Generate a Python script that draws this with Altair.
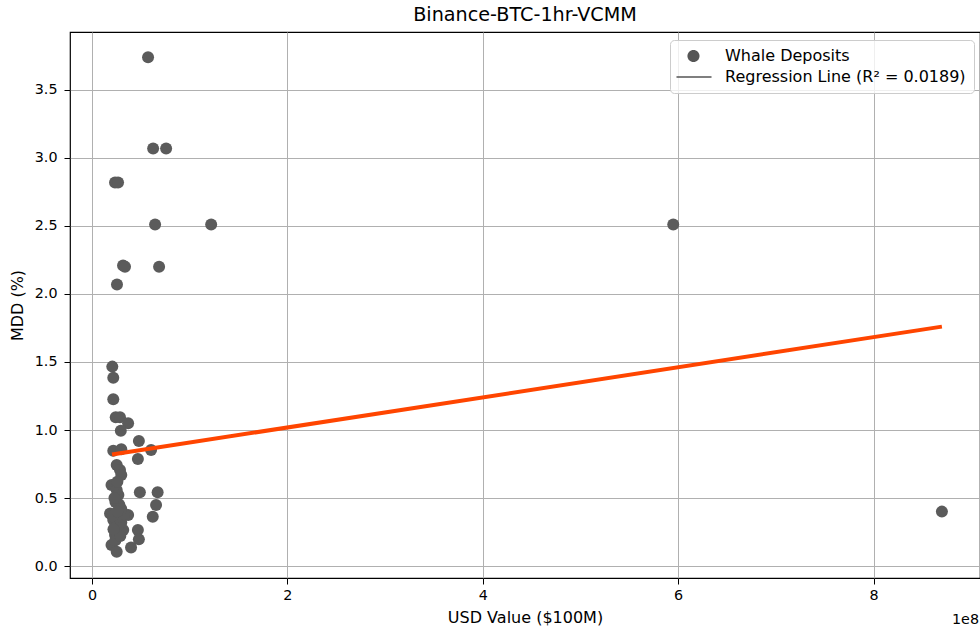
import altair as alt
import pandas as pd

# USD value in units of 1e8 ($100M), MDD in %
usd_value = [0.574, 0.626, 0.759, 0.236, 0.267, 0.646, 1.22, 5.95, 0.318, 0.338, 0.687, 0.256, 8.70,
             0.208, 0.218, 0.218, 0.243, 0.287, 0.37, 0.295, 0.48, 0.605, 0.218, 0.30, 0.47,
             0.253, 0.287, 0.30, 0.20, 0.253, 0.27, 0.49, 0.672, 0.656, 0.622, 0.185, 0.218,
             0.287, 0.37, 0.253, 0.32, 0.47, 0.48, 0.236, 0.20, 0.253, 0.40, 0.24, 0.28,
             0.23, 0.30, 0.27, 0.21, 0.33, 0.26, 0.30, 0.24, 0.29, 0.22, 0.26]
mdd = [3.74, 3.07, 3.07, 2.82, 2.82, 2.51, 2.51, 2.51, 2.21, 2.20, 2.20, 2.07, 0.40,
       1.466, 1.385, 1.226, 1.093, 1.093, 1.05, 0.995, 0.92, 0.853, 0.848, 0.858, 0.787,
       0.743, 0.706, 0.669, 0.596, 0.559, 0.522, 0.542, 0.542, 0.449, 0.363, 0.387, 0.338,
       0.41, 0.375, 0.289, 0.265, 0.265, 0.196, 0.228, 0.154, 0.105, 0.137, 0.47, 0.45,
       0.50, 0.32, 0.36, 0.37, 0.38, 0.62, 0.42, 0.19, 0.22, 0.27, 0.40]

line_x = [0.205, 8.70]
line_y = [0.82, 1.76]

series_names = ["Whale Deposits", "Regression Line (R² = 0.0189)"]
x_ticks = [0, 2, 4, 6, 8]
y_ticks = [0.0, 0.5, 1.0, 1.5, 2.0, 2.5, 3.0, 3.5]

pts = pd.DataFrame({"usd": usd_value, "mdd": mdd})
ln = pd.DataFrame({"usd": line_x, "mdd": line_y})
leg = pd.DataFrame({"series": series_names})
offset_df = pd.DataFrame({"t": ["1e8"]})

FONT = "DejaVu Sans"
xscale = alt.Scale(domain=[-0.225, 9.09], nice=False, zero=False)
yscale = alt.Scale(domain=[-0.088, 3.926], nice=False, zero=False)

xaxis = alt.Axis(values=x_ticks, format="d", title="USD Value ($100M)",
                 labelPadding=4, titlePadding=7)
yaxis = alt.Axis(values=y_ticks, format=".1f", title="MDD (%)",
                 labelPadding=7, titlePadding=9)

points = alt.Chart(pts).mark_point(filled=True, opacity=1, color="#5b5b5b",
                                   shape="circle", size=144).encode(
    x=alt.X("usd:Q", scale=xscale, axis=xaxis),
    y=alt.Y("mdd:Q", scale=yscale, axis=yaxis),
)

line = alt.Chart(ln).mark_line(color="#ff4500", strokeWidth=4).encode(
    x=alt.X("usd:Q", scale=xscale),
    y=alt.Y("mdd:Q", scale=yscale),
)

# legend-only layer (invisible marks; symbols drawn by the legend)
circle_path = "M2.46,0A1.1,1.1,0,1,1,0.26,0A1.1,1.1,0,1,1,2.46,0Z"
bar_path = "M-1.73,-0.14H4.64V0.14H-1.73Z"
legend_layer = alt.Chart(leg).mark_point(filled=True, opacity=0, color="#555555",
                                         strokeWidth=0, size=121).encode(
    x=alt.value(0), y=alt.value(0),
    shape=alt.Shape("series:N",
                    scale=alt.Scale(domain=series_names, range=[circle_path, bar_path]),
                    legend=alt.Legend(title=None, orient="none", legendX=600, legendY=8)),
)

offset_text = alt.Chart(offset_df).mark_text(
    align="right", baseline="middle", font=FONT, fontSize=14.3, color="black"
).encode(text="t:N", x=alt.value(909), y=alt.value(588))

chart = alt.layer(points, line, legend_layer, offset_text).properties(
    width=910, height=546,
    title=alt.TitleParams("Binance-BTC-1hr-VCMM", fontSize=19.2, fontWeight="normal",
                          font=FONT, color="black", anchor="middle", offset=1),
    autosize=alt.AutoSizeParams(type="none"),
    padding={"left": 70, "top": 32, "right": 0, "bottom": 52},
).configure_view(
    stroke="black", strokeWidth=1.2
).configure_axis(
    labelFont=FONT, labelFontSize=14.3, labelColor="black",
    titleFont=FONT, titleFontSize=16, titleFontWeight="normal", titleColor="black",
    grid=True, gridColor="#b0b0b0", gridWidth=1,
    tickColor="black", tickSize=6, domain=False,
).configure_legend(
    labelFont=FONT, labelFontSize=16, labelColor="black", labelLimit=0,
    symbolOpacity=1, symbolSize=121, symbolStrokeWidth=0,
    fillColor="rgba(255,255,255,0.8)", strokeColor="#cccccc", cornerRadius=4,
    padding=8, rowPadding=5, labelOffset=31,
)

chart.save("out.html", embed_options={"renderer": "svg", "actions": False})
